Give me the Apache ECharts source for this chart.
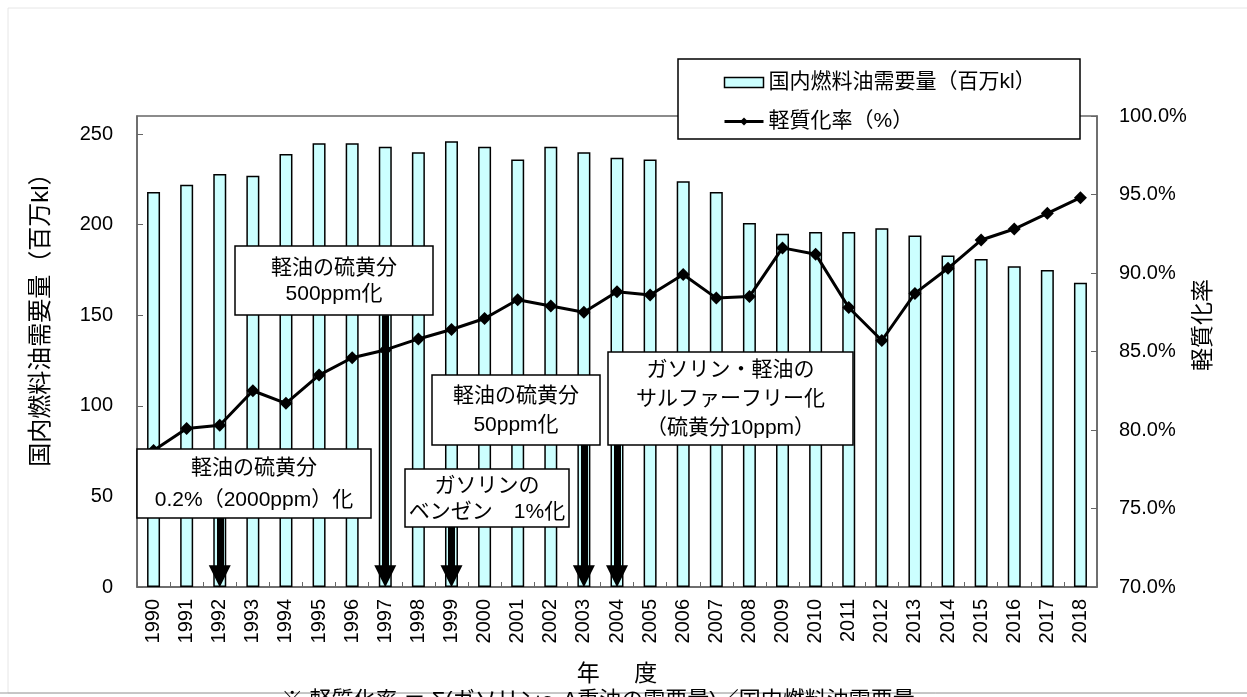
<!DOCTYPE html>
<html>
<head>
<meta charset="utf-8">
<script src="https://cdn.jsdelivr.net/npm/echarts@6/dist/echarts.min.js"></script>
<style>html,body{margin:0;padding:0;background:#fff;}#c{width:1247px;height:697px;}</style>
</head>
<body>
<div id="c"></div>
<script>
const years = ['1990','1991','1992','1993','1994','1995','1996','1997','1998','1999','2000','2001','2002','2003','2004','2005','2006','2007','2008','2009','2010','2011','2012','2013','2014','2015','2016','2017','2018'];
const demand = [218,222,228,227,239,245,245,243,240,246,243,236,243,240,237,236,224,218,201,195,196,196,198,194,183,181,177,175,168];
const lightRate = [78.7,80.1,80.3,82.5,81.7,83.5,84.6,85.1,85.8,86.4,87.1,88.3,87.9,87.5,88.8,88.6,89.9,88.4,88.5,91.6,91.2,87.8,85.7,88.7,90.3,92.1,92.8,93.8,94.8];
const barName = '国内燃料油需要量（百万kl）';
const lineName = '軽質化率（%）';
const arrowYears = ['1992','1997','1999','2003','2004'];
const annotationTexts = [
  ['軽油の硫黄分','0.2%（2000ppm）化'],
  ['軽油の硫黄分','500ppm化'],
  ['ガソリンの','ベンゼン\u30001%化'],
  ['軽油の硫黄分','50ppm化'],
  ['ガソリン・軽油の','サルファーフリー化','（硫黄分10ppm）']
];

const FONT = '"Liberation Sans", Arial, "Noto Sans CJK JP", sans-serif';
// annotation box layout (pixels) and arrow start heights (left-axis units)
const boxLayout = [
  {x:137, y:449, w:234, h:69, lh:32},
  {x:235, y:246, w:198, h:69, lh:26},
  {x:405, y:469, w:164, h:58, lh:26},
  {x:432, y:375, w:168, h:70, lh:29},
  {x:608, y:352, w:245, h:93, lh:29}
];
const arrowStart = [40, 150, 35, 80, 80];

const graphics = [
  {type:'rect', shape:{x:8, y:8, width:1300, height:685}, style:{fill:'none', stroke:'#e6e6e6', lineWidth:1}, silent:true, z:-1},
  {type:'line', shape:{x1:0, y1:693, x2:1247, y2:693}, style:{stroke:'#9a9a9a', lineWidth:1}, silent:true, z:1},
  {type:'rect', shape:{x:678, y:59, width:402, height:80}, style:{fill:'#fff', stroke:'#000', lineWidth:1.5}, silent:true, z:3},
  {type:'text', x:41, y:314, rotation:Math.PI/2, silent:true, z:3,
    style:{text:'国内燃料油需要量（百万kl）', font:'24px ' + FONT, fill:'#000', textAlign:'center', textVerticalAlign:'middle'}},
  {type:'text', x:1204, y:325, rotation:Math.PI/2, silent:true, z:3,
    style:{text:'軽質化率', font:'23px ' + FONT, fill:'#000', textAlign:'center', textVerticalAlign:'middle'}},
  {type:'text', x:598, y:701, silent:true, z:3,
    style:{text:'※ 軽質化率 ＝ Σ(ガソリン～A重油の需要量)／国内燃料油需要量', font:'22px ' + FONT, fill:'#000', textAlign:'center', textVerticalAlign:'middle'}}
];
boxLayout.forEach((b, i) => {
  graphics.push({type:'rect', shape:{x:b.x, y:b.y, width:b.w, height:b.h}, style:{fill:'#fff', stroke:'#000', lineWidth:1.5}, silent:true, z:10});
  graphics.push({type:'text', x:b.x + b.w/2, y:b.y + b.h/2 + 1, silent:true, z:11,
    style:{text:annotationTexts[i].join('\n'), font:'21px ' + FONT, lineHeight:b.lh, fill:'#000', textAlign:'center', textVerticalAlign:'middle'}});
});

const chart = echarts.init(document.getElementById('c'));
const axisColor = '#666';
chart.setOption({
  animation:false,
  textStyle:{fontFamily:FONT},
  grid:{left:137, right:150, top:116, bottom:110, show:true, borderColor:axisColor, borderWidth:1.5, backgroundColor:'transparent'},
  legend:{
    orient:'vertical', left:723, top:72, itemGap:18, itemWidth:39, itemHeight:10, padding:0, z:4,
    textStyle:{fontSize:21, color:'#000', fontFamily:FONT},
    data:[
      {name:barName, icon:'rect', itemStyle:{color:'#CCFFFF', borderColor:'#000', borderWidth:1.5}},
      {name:lineName, lineStyle:{width:3, color:'#000'}, itemStyle:{color:'#000'}}
    ],
    selectedMode:false
  },
  xAxis:{
    type:'category', data:years, boundaryGap:true,
    axisLine:{lineStyle:{color:axisColor, width:1.5}},
    axisTick:{show:true, inside:true, length:5, interval:0, lineStyle:{color:axisColor}},
    axisLabel:{interval:0, rotate:90, fontSize:20, color:'#000', margin:12, fontFamily:FONT},
    name:'年\u3000\u2002度', nameLocation:'middle', nameGap:76,
    nameTextStyle:{fontSize:23, color:'#000', fontFamily:FONT}
  },
  yAxis:[
    {type:'value', min:0, max:260, interval:50, position:'left',
      axisLine:{show:true, lineStyle:{color:axisColor, width:1.5}},
      axisTick:{show:true, inside:true, length:6, lineStyle:{color:axisColor}},
      splitLine:{show:false},
      axisLabel:{fontSize:20, color:'#000', margin:24, showMaxLabel:false, fontFamily:FONT}},
    {type:'value', min:70, max:100, interval:5, position:'right',
      axisLine:{show:true, lineStyle:{color:axisColor, width:1.5}},
      axisTick:{show:true, inside:true, length:6, lineStyle:{color:axisColor}},
      splitLine:{show:false},
      axisLabel:{fontSize:20, color:'#000', margin:22, fontFamily:FONT, formatter:v => v.toFixed(1) + '%'}}
  ],
  graphic:graphics,
  series:[
    {name:barName, type:'bar', data:demand, barWidth:13, yAxisIndex:0,
      itemStyle:{color:'#CCFFFF', borderColor:'#000', borderWidth:1.5},
      emphasis:{disabled:true},
      markLine:{
        silent:true, symbol:['none','triangle'], symbolSize:[22,22], z:6,
        label:{show:false}, emphasis:{disabled:true},
        lineStyle:{color:'#000', width:7, type:'solid', opacity:1},
        data:arrowYears.map((y, i) => [{coord:[y, arrowStart[i]]}, {coord:[y, 6]}])
      }},
    {name:lineName, type:'line', data:lightRate, yAxisIndex:1,
      symbol:'diamond', symbolSize:13, z:5,
      itemStyle:{color:'#000'}, lineStyle:{color:'#000', width:3},
      emphasis:{disabled:true}}
  ]
});
</script>
</body>
</html>
